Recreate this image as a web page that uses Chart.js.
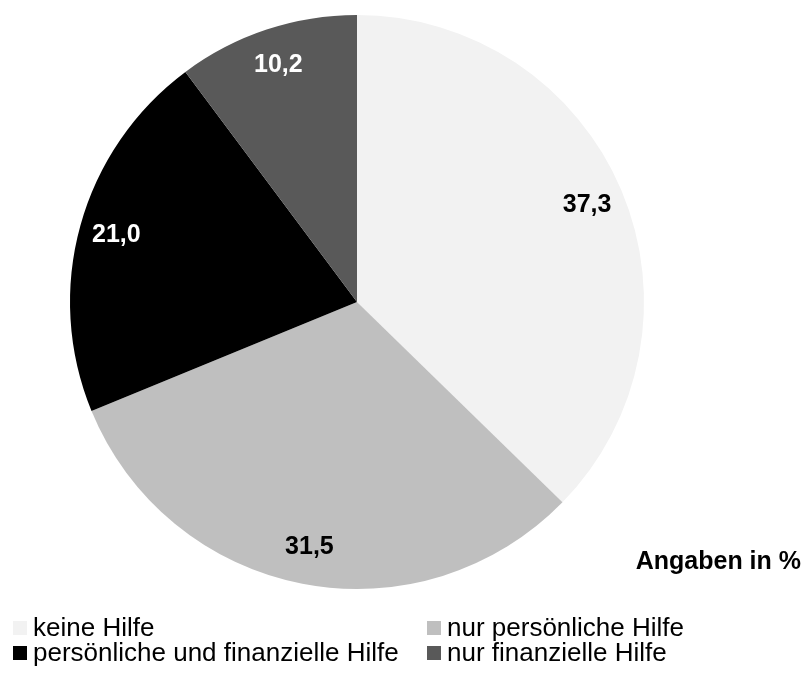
<!DOCTYPE html>
<html>
<head>
<meta charset="utf-8">
<script src="https://cdn.jsdelivr.net/npm/chart.js@4.4.0/dist/chart.umd.min.js"></script>
<style>
  body { margin: 0; background: #fff; }
  canvas { display: block; }
</style>
</head>
<body>
<canvas id="grafico" width="806" height="673"></canvas>
<script>
const kategorien = ["keine Hilfe", "nur persönliche Hilfe", "persönliche und finanzielle Hilfe", "nur finanzielle Hilfe"];
const anteile = [37.3, 31.5, 21.0, 10.2];
const farben = ["#f2f2f2", "#bfbfbf", "#000000", "#595959"];
const labelFarben = ["#000000", "#000000", "#ffffff", "#ffffff"];
const hinweis = "Angaben in %";

const schrift = '"Liberation Sans", Arial, sans-serif';

// Werte in die Segmente schreiben (deutsches Komma)
const wertePlugin = {
  id: 'werte',
  afterDatasetsDraw(chart) {
    const ctx = chart.ctx;
    const meta = chart.getDatasetMeta(0);
    ctx.save();
    ctx.font = 'bold 25px ' + schrift;
    ctx.textAlign = 'center';
    ctx.textBaseline = 'middle';
    meta.data.forEach((arc, i) => {
      const mitte = (arc.startAngle + arc.endAngle) / 2;
      const r = arc.outerRadius * 0.87;
      const x = arc.x + Math.cos(mitte) * r;
      const y = arc.y + Math.sin(mitte) * r;
      ctx.fillStyle = labelFarben[i];
      ctx.fillText(anteile[i].toFixed(1).replace('.', ','), x, y);
    });
    ctx.restore();
  }
};

// Legende in zwei Spalten + Hinweis unten rechts
const legendePlugin = {
  id: 'legende',
  afterDraw(chart) {
    const ctx = chart.ctx;
    const spalten = [13, 427];
    const zeilen = [628, 653];
    ctx.save();
    ctx.font = '26px ' + schrift;
    ctx.textBaseline = 'middle';
    ctx.textAlign = 'left';
    kategorien.forEach((name, i) => {
      const x = spalten[i % 2];
      const y = zeilen[Math.floor(i / 2)];
      ctx.fillStyle = farben[i];
      ctx.fillRect(x, y - 7, 14, 14);
      ctx.fillStyle = '#000';
      ctx.fillText(name, x + 20, y + 1);
    });
    ctx.font = 'bold 25px ' + schrift;
    ctx.textAlign = 'right';
    ctx.fillText(hinweis, 801, 562);
    ctx.restore();
  }
};

new Chart(document.getElementById('grafico'), {
  type: 'pie',
  data: {
    labels: kategorien,
    datasets: [{
      data: anteile,
      backgroundColor: farben,
      borderWidth: 0
    }]
  },
  options: {
    responsive: false,
    animation: false,
    layout: {
      padding: { left: 70, right: 162, top: 15, bottom: 84 }
    },
    plugins: {
      legend: { display: false },
      tooltip: { enabled: false }
    }
  },
  plugins: [wertePlugin, legendePlugin]
});
</script>
</body>
</html>
